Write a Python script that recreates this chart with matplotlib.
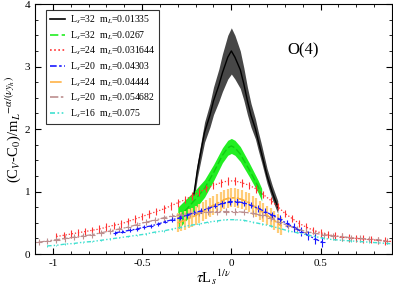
import numpy as np
import matplotlib
matplotlib.use("Agg")
import matplotlib.pyplot as plt
from matplotlib.ticker import MultipleLocator
from matplotlib.lines import Line2D

plt.rcParams['font.family'] = ['Liberation Serif', 'DejaVu Serif']
plt.rcParams['mathtext.fontset'] = 'stix'

# ---- data ----
# Ls=32, mL=0.01335 (band)
x_k = [-0.21, -0.19, -0.17, -0.15, -0.12, -0.10, -0.07, -0.05, -0.02, 0.0,
       0.02, 0.05, 0.07, 0.09, 0.11, 0.135, 0.15, 0.17, 0.20, 0.23, 0.26]
y_k = [0.95, 1.35, 1.65, 1.95, 2.22, 2.45, 2.70, 2.90, 3.15, 3.25,
       3.15, 2.95, 2.72, 2.45, 2.22, 2.00, 1.82, 1.60, 1.25, 0.98, 0.75]
e_k = [0.10, 0.12, 0.14, 0.16, 0.19, 0.22, 0.26, 0.30, 0.35, 0.37,
       0.35, 0.30, 0.26, 0.22, 0.19, 0.16, 0.15, 0.14, 0.12, 0.11, 0.10]

# Ls=32, mL=0.0267 (band)
x_g = [-0.30, -0.25, -0.20, -0.15, -0.10, -0.05, -0.02, 0.0, 0.02, 0.05, 0.10, 0.15, 0.17]
y_g = [0.57, 0.72, 0.88, 1.05, 1.30, 1.58, 1.70, 1.73, 1.70, 1.60, 1.35, 1.08, 0.95]
e_g = [0.18, 0.17, 0.15, 0.14, 0.13, 0.12, 0.12, 0.12, 0.12, 0.12, 0.11, 0.10, 0.10]

# Ls=24, mL=0.031644
x_r = [-0.98, -0.94, -0.90, -0.86, -0.82, -0.78, -0.74, -0.70, -0.66, -0.62, -0.58, -0.54,
       -0.50, -0.46, -0.42, -0.38, -0.34, -0.30, -0.26, -0.22, -0.18, -0.14, -0.10, -0.06,
       -0.02, 0.02, 0.06, 0.10, 0.14, 0.18, 0.22, 0.26, 0.30, 0.34, 0.38, 0.42,
       0.46, 0.50, 0.54, 0.58, 0.62, 0.66, 0.70, 0.74, 0.78, 0.82, 0.86, 0.90]
y_r = [0.28, 0.30, 0.32, 0.34, 0.36, 0.38, 0.40, 0.43, 0.46, 0.48, 0.52, 0.56,
       0.60, 0.64, 0.68, 0.72, 0.77, 0.82, 0.87, 0.93, 0.99, 1.05, 1.10, 1.14,
       1.17, 1.17, 1.14, 1.10, 1.04, 0.95, 0.86, 0.76, 0.65, 0.57, 0.49, 0.43,
       0.38, 0.34, 0.31, 0.29, 0.27, 0.26, 0.25, 0.24, 0.23, 0.22, 0.21, 0.20]

# Ls=20, mL=0.04303
x_b = [-0.65, -0.61, -0.57, -0.53, -0.49, -0.45, -0.41, -0.37, -0.33, -0.29, -0.25, -0.21,
       -0.17, -0.13, -0.09, -0.05, -0.01, 0.03, 0.07, 0.11, 0.15, 0.19, 0.23, 0.27,
       0.31, 0.35, 0.39, 0.43, 0.47, 0.51]
y_b = [0.34, 0.36, 0.38, 0.40, 0.43, 0.45, 0.48, 0.52, 0.55, 0.58, 0.62, 0.66,
       0.69, 0.73, 0.77, 0.81, 0.84, 0.84, 0.82, 0.78, 0.73, 0.68, 0.62, 0.56,
       0.49, 0.43, 0.36, 0.30, 0.24, 0.19]
e_b = [0.03, 0.03, 0.03, 0.03, 0.03, 0.03, 0.03, 0.03, 0.04, 0.04, 0.04, 0.04,
       0.04, 0.04, 0.04, 0.05, 0.05, 0.05, 0.05, 0.05, 0.05, 0.06, 0.06, 0.06,
       0.06, 0.07, 0.07, 0.07, 0.08, 0.08]

# Ls=24, mL=0.04444 (dense error bars)
x_o = [-0.30, -0.28, -0.26, -0.24, -0.22, -0.20, -0.18, -0.16, -0.14, -0.12, -0.10, -0.08,
       -0.06, -0.04, -0.02, 0.00, 0.02, 0.04, 0.06, 0.08, 0.10, 0.12, 0.14, 0.16,
       0.18, 0.20, 0.22, 0.24, 0.26, 0.28]
y_o = [0.50, 0.52, 0.54, 0.57, 0.59, 0.62, 0.65, 0.68, 0.71, 0.75, 0.78, 0.81,
       0.84, 0.87, 0.89, 0.90, 0.90, 0.89, 0.87, 0.85, 0.82, 0.78, 0.74, 0.70,
       0.66, 0.62, 0.58, 0.54, 0.49, 0.45]

# Ls=20, mL=0.054682
x_br = [-1.08, -1.03, -0.98, -0.93, -0.88, -0.83, -0.78, -0.73, -0.68, -0.63, -0.58, -0.53,
        -0.48, -0.43, -0.38, -0.33, -0.28, -0.23, -0.18, -0.13, -0.08, -0.03, 0.02, 0.07,
        0.12, 0.17, 0.22, 0.27, 0.32, 0.37, 0.42, 0.47, 0.52, 0.57, 0.62, 0.67,
        0.72, 0.77, 0.82, 0.87]
y_br = [0.19, 0.21, 0.23, 0.25, 0.27, 0.29, 0.31, 0.34, 0.37, 0.40, 0.43, 0.47,
        0.51, 0.54, 0.58, 0.61, 0.63, 0.65, 0.66, 0.67, 0.68, 0.68, 0.68, 0.67,
        0.65, 0.62, 0.58, 0.51, 0.45, 0.40, 0.36, 0.33, 0.31, 0.29, 0.28, 0.26,
        0.25, 0.24, 0.23, 0.21]

# Ls=16, mL=0.075
x_c = [-1.03, -0.98, -0.93, -0.88, -0.83, -0.78, -0.73, -0.68, -0.63, -0.58, -0.53, -0.48,
       -0.43, -0.38, -0.33, -0.28, -0.23, -0.18, -0.13, -0.08, -0.03, 0.02, 0.07, 0.12,
       0.17, 0.22, 0.27, 0.32, 0.37, 0.42, 0.47, 0.52, 0.57, 0.62, 0.67, 0.72,
       0.77, 0.82, 0.87, 0.92]
y_c = [0.13, 0.14, 0.16, 0.17, 0.19, 0.20, 0.22, 0.24, 0.26, 0.28, 0.30, 0.32,
       0.35, 0.37, 0.40, 0.43, 0.46, 0.48, 0.51, 0.53, 0.55, 0.55, 0.54, 0.51,
       0.48, 0.45, 0.41, 0.37, 0.34, 0.31, 0.28, 0.25, 0.23, 0.22, 0.21, 0.20,
       0.19, 0.18, 0.17, 0.16]

labels = ["L$_s$=32  m$_L$=0.01335", "L$_s$=32  m$_L$=0.0267", "L$_s$=24  m$_L$=0.031644",
          "L$_s$=20  m$_L$=0.04303", "L$_s$=24  m$_L$=0.04444", "L$_s$=20  m$_L$=0.054682",
          "L$_s$=16  m$_L$=0.075"]

# line styles per series (legend order)
colors = ["black", "#22ee22", "#ff3333", "#1a1aff", "#ffb347", "#bc8f8f", "#40e0d0"]
styles = ["-", (0, (5, 2)), (0, (1, 1.5)), (0, (4, 1.5, 1.5, 1.5)),
          (0, (7, 2, 2, 2)), (0, (5, 1.5, 1.5, 1.5, 1.5, 1.5)), (0, (3, 1.5, 1, 1.5, 1, 1.5))]

fig = plt.figure(figsize=(3.93, 2.91), dpi=100)
ax = fig.add_axes([0.089, 0.127, 0.9085, 0.859])

# black band
yk = np.array(y_k); ek = np.array(e_k)
ax.fill_between(x_k, yk - ek, yk + ek, color="#474747", lw=0)
ax.plot(x_k, y_k, color="black", lw=1.0)

# green band
yg = np.array(y_g); eg = np.array(e_g)
ax.fill_between(x_g, yg - eg, yg + eg, color="#22ee22", lw=0)
ax.plot(x_g, y_g, color="#11cc11", lw=1.0, ls=styles[1])

ax.errorbar(x_r, y_r, yerr=0.06, color=colors[2], lw=0.9, ls=styles[2],
            elinewidth=0.8, capsize=0)

ax.errorbar(x_o, y_o, yerr=0.15, color=colors[4], lw=0.9, ls=styles[4],
            elinewidth=1.6, ecolor="#ffcc77", capsize=0)
ax.plot(x_o, y_o, color="#ee9a00", lw=0.9, ls=styles[4])

ax.errorbar(x_br, y_br, yerr=0.05, xerr=0.018, color=colors[5], lw=0.9,
            ls=styles[5], elinewidth=0.8, capsize=0)

ax.errorbar(x_b, y_b, yerr=e_b, xerr=0.012, color=colors[3], lw=0.9,
            ls=styles[3], elinewidth=0.8, capsize=0)

ax.errorbar(x_c, y_c, yerr=0.01, color=colors[6], lw=1.0,
            ls=styles[6], elinewidth=0.7, capsize=0)

ax.set_xlim(-1.1, 0.9)
ax.set_ylim(0, 4)
ax.xaxis.set_major_locator(MultipleLocator(0.5))
ax.xaxis.set_minor_locator(MultipleLocator(0.1))
ax.yaxis.set_major_locator(MultipleLocator(1))
ax.yaxis.set_minor_locator(MultipleLocator(0.25))
ax.tick_params(which="both", direction="in", top=True, right=True, labelsize=8)
ax.tick_params(which="major", length=4)
ax.tick_params(which="minor", length=2)
ax.set_xticks([-1, -0.5, 0, 0.5])
ax.set_xticklabels(["-1", "-0.5", "0", "0.5"])

ax.set_xlabel(r"$\tau$L$_s$$^{1/\nu}$", fontsize=10.5, labelpad=0)
ax.set_ylabel(r"(C$_V$-C$_0$)/m$_L$$^{-\alpha/(\nu y_h)}$", fontsize=10.5, labelpad=1)

ax.text(0.40, 3.26, "O(4)", fontsize=12, ha="center", va="center")

handles = [Line2D([], [], color=c, ls=s, lw=1.2) for c, s in zip(colors, styles)]
leg = ax.legend(handles, labels, loc="upper left",
                bbox_to_anchor=(0.025, 0.985), fontsize=7, frameon=True, fancybox=False,
                edgecolor="black", handlelength=1.6, handletextpad=0.45,
                labelspacing=0.32, borderpad=0.4, borderaxespad=0.2)
leg.get_frame().set_linewidth(0.8)

fig.savefig("out.png", dpi=100)
